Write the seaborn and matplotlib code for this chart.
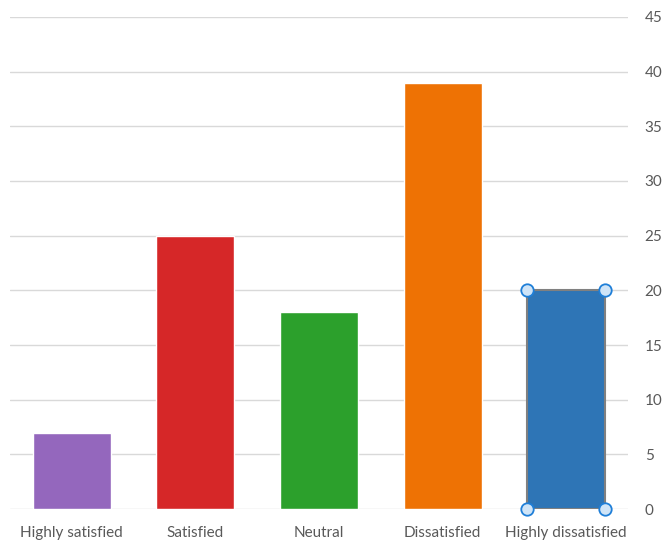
import matplotlib.pyplot as plt
import seaborn as sns
import pandas as pd

categories = ['Highly satisfied', 'Satisfied', 'Neutral', 'Dissatisfied', 'Highly dissatisfied']
counts = [7, 25, 18, 39, 20]
colors = ['#9467bd', '#d62728', '#2ca02c', '#ee7204', '#2e75b6']

df = pd.DataFrame({'category': categories, 'count': counts})

sns.set_theme(style='white')
plt.rcParams['font.family'] = ['Lato', 'DejaVu Sans']

fig = plt.figure(figsize=(6.66, 5.44), dpi=100)
ax = fig.add_axes([0.015, 0.064, 0.928, 0.905])

sns.barplot(data=df, x='category', y='count', hue='category', palette=colors,
            width=0.63, saturation=1, legend=False, ax=ax, zorder=3)

ax.set_xlim(-0.5, 4.5)
ax.set_ylim(0, 45)
ax.set_yticks(range(0, 50, 5))
ax.yaxis.tick_right()
ax.grid(axis='y', color='#d9d9d9', linewidth=1, zorder=0)
for s in ax.spines.values():
    s.set_visible(False)
ax.tick_params(axis='both', length=0, labelsize=11, colors='#595959')
ax.tick_params(axis='y', pad=12)
ax.tick_params(axis='x', pad=12)
ax.set_xlabel('')
ax.set_ylabel('')

# selected bar outline + handles
sel = ax.patches[-1]
sel.set_edgecolor('#808080')
sel.set_linewidth(1.5)
x0, y0 = sel.get_x(), sel.get_y()
x1, y1 = x0 + sel.get_width(), y0 + sel.get_height()
ax.scatter([x0, x1, x0, x1], [y0, y0, y1, y1], s=80, facecolor='#cfe4f7',
           edgecolor='#1f7fd8', linewidth=1.3, zorder=5, clip_on=False)

fig.savefig('out.png', dpi=100)
